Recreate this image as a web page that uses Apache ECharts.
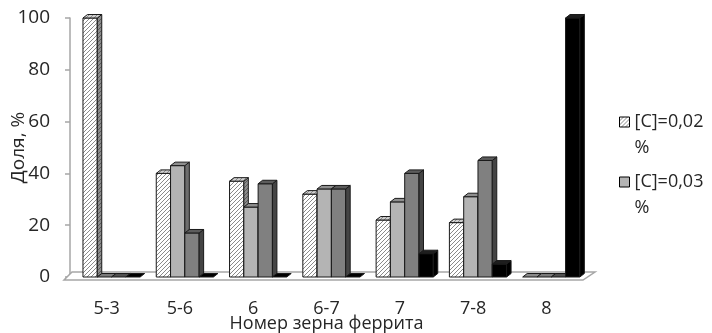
<!DOCTYPE html>
<html><head><meta charset="utf-8">
<script src="https://cdn.jsdelivr.net/npm/echarts@6/dist/echarts.min.js"></script>
<style>html,body{margin:0;padding:0;background:#fff}#c{width:712px;height:333px}</style>
</head><body><div id="c"></div>
<script>
const categories = ['5-3', '5-6', '6', '6-7', '7', '7-8', '8'];
const seriesNames = ['[C]=0,02 %', '[C]=0,03 %', '[C]=0,04 %', '[C]=0,05 %'];
const valuesC002 = [100, 40, 37, 32, 22, 21, 0];
const valuesC003 = [0, 43, 27, 34, 29, 31, 0];
const valuesC004 = [0, 17, 36, 34, 40, 45, 0];
const valuesC005 = [0, 0, 0, 0, 9, 5, 100];
const legendShown = ['[C]=0,02 %', '[C]=0,03 %'];
const yMin = 0, yMax = 100, yStep = 20;
const xTitle = 'Номер зерна феррита';
const yTitle = 'Доля, %';

function hatch(bg, fg, size) {
  const c = document.createElement('canvas');
  c.width = c.height = size;
  const g = c.getContext('2d');
  g.fillStyle = bg; g.fillRect(0, 0, size, size);
  g.strokeStyle = fg; g.lineWidth = 1;
  g.beginPath();
  g.moveTo(0, size); g.lineTo(size, 0);
  g.moveTo(-1, 1); g.lineTo(1, -1);
  g.moveTo(size - 1, size + 1); g.lineTo(size + 1, size - 1);
  g.stroke();
  return c;
}
const hatchFront = { image: hatch('#ffffff', '#8a8a8a', 4), repeat: 'repeat' };
const hatchSide = { image: hatch('#8c8c8c', '#5a5a5a', 4), repeat: 'repeat' };
const hatchTop = { image: hatch('#d0d0d0', '#8a8a8a', 4), repeat: 'repeat' };

const styles = [
  { front: hatchFront, top: hatchTop, side: hatchSide, zero: '#8a8a8a' },
  { front: '#b4b4b4', top: '#8f8f8f', side: '#6e6e6e', zero: '#7a7a7a' },
  { front: '#808080', top: '#5c5c5c', side: '#444444', zero: '#505050' },
  { front: '#000000', top: '#1e1e1e', side: '#000000', zero: '#000000' }
];
const allValues = [valuesC002, valuesC003, valuesC004, valuesC005];

function makeRender(si) {
  return function (params, api) {
    const cat = api.value(0), val = api.value(1);
    const base = api.coord([cat, 0]);
    const top = api.coord([cat, val]);
    const band = api.size([1, 0])[0];
    const w = band * 0.195;
    const x0 = base[0] - band / 2 + band * 0.177 + si * w;
    const dx = 4.5, dy = -3.5;
    const st = styles[si];
    const stroke = '#1a1a1a';
    const children = [];
    const h = base[1] - top[1];
    if (h > 0.5) {
      children.push({ type: 'rect', shape: { x: x0, y: top[1], width: w, height: h },
        style: { fill: st.front, stroke: stroke, lineWidth: 1 } });
      children.push({ type: 'polygon', shape: { points: [[x0 + w, top[1]], [x0 + w + dx, top[1] + dy], [x0 + w + dx, base[1] + dy], [x0 + w, base[1]]] },
        style: { fill: st.side, stroke: stroke, lineWidth: 1 } });
      children.push({ type: 'polygon', shape: { points: [[x0, top[1]], [x0 + dx, top[1] + dy], [x0 + w + dx, top[1] + dy], [x0 + w, top[1]]] },
        style: { fill: st.top, stroke: stroke, lineWidth: 1 } });
    } else {
      children.push({ type: 'polygon', shape: { points: [[x0, base[1]], [x0 + dx, base[1] + dy], [x0 + w + dx, base[1] + dy], [x0 + w, base[1]]] },
        style: { fill: st.zero, stroke: stroke, lineWidth: 1 } });
    }
    return { type: 'group', children: children };
  };
}

const chart = echarts.init(document.getElementById('c'), null, { renderer: 'canvas' });
const font = '"Open Sans", "Noto Sans", sans-serif';
const series = [{
  type: 'custom', name: 'floor', silent: true, z: 1, clip: false,
  data: [[0, 0]],
  renderItem: function (params, api) {
    const cs = params.coordSys;
    const b = cs.y + cs.height;
    return { type: 'polygon', shape: { points: [[cs.x - 6, b + 3], [cs.x + cs.width, b + 3], [cs.x + cs.width + 12, b - 5], [cs.x + 2, b - 5]] },
      style: { fill: '#ffffff', stroke: '#a6a6a6', lineWidth: 1.5 } };
  }
}];
seriesNames.forEach(function (n, si) {
  series.push({
    type: 'custom', name: n, z: 2 + si, clip: false,
    itemStyle: { color: si === 0 ? hatchFront : styles[si].front, borderColor: '#000', borderWidth: 1 },
    data: allValues[si].map(function (v, i) { return [i, v]; }),
    renderItem: makeRender(si)
  });
});

chart.setOption({
  animation: false,
  textStyle: { fontFamily: font },
  grid: { left: 70, right: 129, top: 18, bottom: 56, containLabel: false, outerBoundsMode: 'none' },
  legend: {
    orient: 'vertical', left: 614, top: 78, itemGap: -18,
    itemWidth: 10, itemHeight: 10, icon: 'rect',
    data: legendShown.map(function (n, i) {
      return { name: n, itemStyle: { color: i === 0 ? hatchFront : styles[i].front, borderColor: '#000', borderWidth: 1 } };
    }),
    formatter: function (n) { return '\n' + n.replace(' ', '\n'); },
    textStyle: { fontFamily: font, fontSize: 18, color: '#262626', lineHeight: 26 }
  },
  xAxis: {
    type: 'category', data: categories,
    name: xTitle, nameLocation: 'middle', nameGap: 38, nameMoveOverlap: false,
    nameTextStyle: { fontFamily: font, fontSize: 18, color: '#262626' },
    axisLine: { show: false }, axisTick: { show: false },
    axisLabel: { margin: 23, fontFamily: font, fontSize: 18, color: '#262626' },
    splitLine: { show: false }
  },
  yAxis: {
    type: 'value', min: yMin, max: yMax, interval: yStep,
    name: yTitle, nameLocation: 'middle', nameGap: 42, nameMoveOverlap: false,
    nameTextStyle: { fontFamily: font, fontSize: 19, color: '#262626' },
    axisLine: { show: true, lineStyle: { color: '#a6a6a6', width: 1.5 } },
    axisTick: { show: true, inside: false, length: 5, lineStyle: { color: '#a6a6a6', width: 1.5 } },
    axisLabel: { margin: 20, fontFamily: font, fontSize: 19, color: '#262626' },
    splitLine: { show: false }
  },
  series: series
});
</script>
</body></html>
